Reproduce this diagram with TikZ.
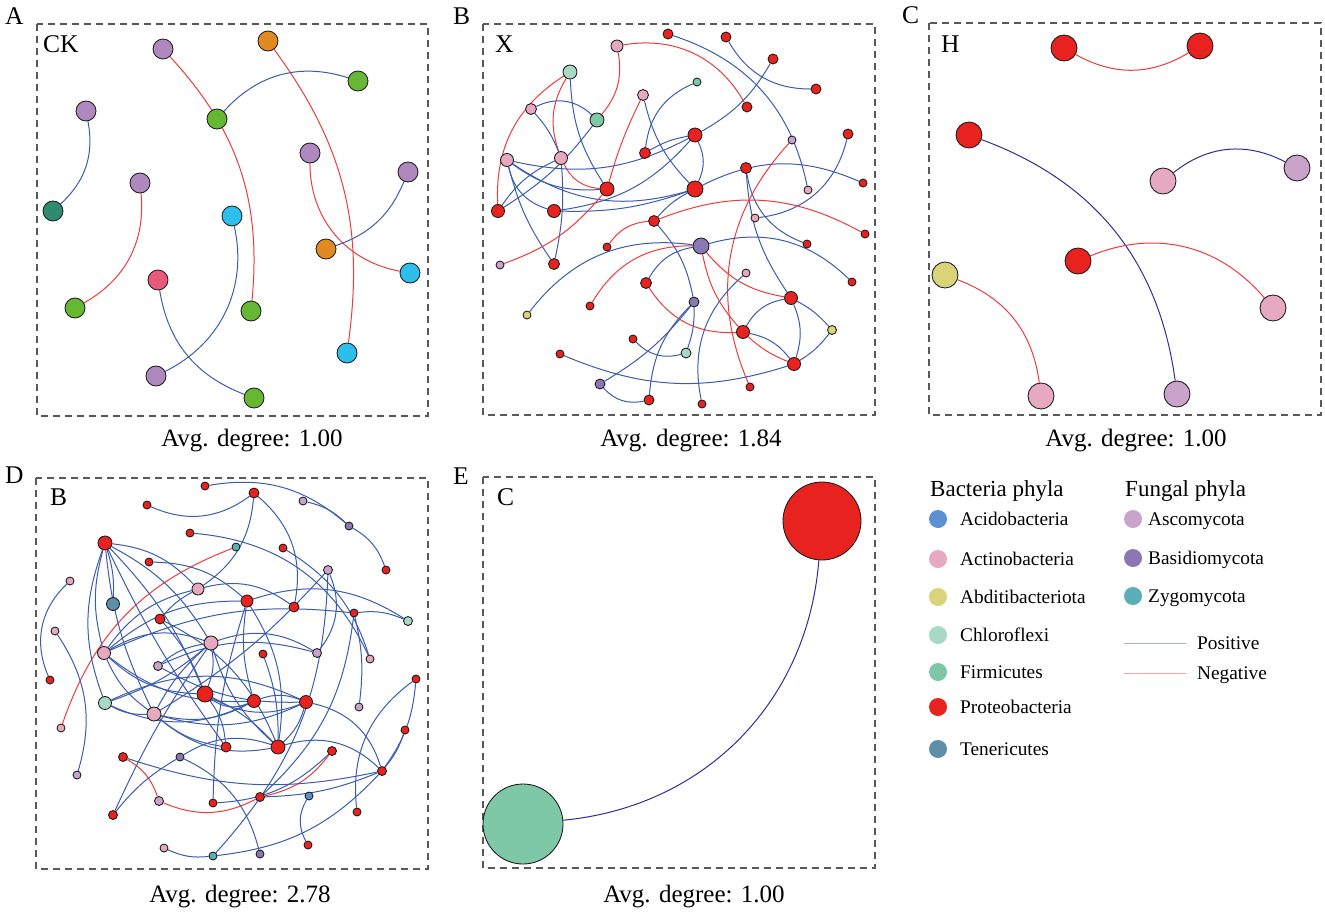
\documentclass[tikz,border=0pt]{standalone}
\usepackage{fontspec}
\setmainfont{Liberation Serif}
\pgfdeclarelayer{edges}
\pgfsetlayers{edges,main}
\definecolor{cPr}{HTML}{E8221E}
\definecolor{cAc}{HTML}{E6A9C0}
\definecolor{cAs}{HTML}{C9A3C9}
\definecolor{cBa}{HTML}{8B77B4}
\definecolor{cZy}{HTML}{5AAFB6}
\definecolor{cCh}{HTML}{A8D8C6}
\definecolor{cFi}{HTML}{7EC8A8}
\definecolor{cAb}{HTML}{D9D37A}
\definecolor{cAci}{HTML}{5B90D2}
\definecolor{cTe}{HTML}{5F8FA8}
\definecolor{cAp}{HTML}{AE88BE}
\definecolor{cAo}{HTML}{E08A22}
\definecolor{cAg}{HTML}{66B832}
\definecolor{cAt}{HTML}{2E8B6E}
\definecolor{cAy}{HTML}{2EBEEC}
\definecolor{cAr}{HTML}{E85A7A}
\definecolor{cPos}{HTML}{3A5CAE}
\definecolor{cNeg}{HTML}{F03A3A}
\definecolor{cNavy}{HTML}{2E2E96}
\definecolor{cPosL}{HTML}{A6ACD8}
\definecolor{cNegL}{HTML}{F4A6A6}
\tikzset{
  nd/.style={circle,draw=black!90,line width=0.85pt,inner sep=0pt,minimum size=#1},
  ps/.style={draw=cPos,line width=1pt},
  ng/.style={draw=cNeg,line width=1pt},
  nv/.style={draw=cNavy,line width=1pt},
  panelbox/.style={draw=black!65,dash pattern=on 7pt off 5pt,line width=1.4pt},
  plab/.style={inner sep=0pt,anchor=base west,font=\fontsize{25.5}{30}\selectfont},
  avg/.style={inner sep=0pt,anchor=base,font=\fontsize{25}{30}\selectfont},
  lgc/.style={circle,inner sep=0pt,minimum size=18pt},
  lgt/.style={inner sep=0pt,anchor=base west,font=\fontsize{19.3}{23}\selectfont},
  lgh/.style={inner sep=0pt,anchor=base west,font=\fontsize{23}{27}\selectfont}
}
\begin{document}
\begin{tikzpicture}[x=1pt,y=1pt]
\useasboundingbox (0,0) rectangle (1325,-914);
% ---------------- panel boxes ----------------
\draw[panelbox] (37,-24) rectangle (428,-416);
\draw[panelbox] (483,-24) rectangle (875,-415);
\draw[panelbox] (929,-23) rectangle (1321,-415);
\draw[panelbox] (36,-478) rectangle (428,-869);
\draw[panelbox] (483,-477) rectangle (875,-868);
% labels
\node[plab] (LA) at (5,-24) {A};
\node[plab] (LB) at (453,-24) {B};
\node[plab] (LC) at (902,-23) {C};
\node[plab] (LD) at (5,-483) {D};
\node[plab] (LE) at (453,-484) {E};
\node[plab] (TA) at (43,-52) {CK};
\node[plab] (TB) at (495,-52) {X};
\node[plab] (TC) at (941,-52) {H};
\node[plab] (TD) at (50,-505) {B};
\node[plab] (TE) at (497,-505) {C};
\node[avg] (VA) at (252,-446) {Avg. degree: 1.00};
\node[avg] (VB) at (691,-446) {Avg. degree: 1.84};
\node[avg] (VC) at (1136,-446) {Avg. degree: 1.00};
\node[avg] (VD) at (240,-902) {Avg. degree: 2.78};
\node[avg] (VE) at (694,-902) {Avg. degree: 1.00};
% ---------------- panel A nodes ----------------
\node[nd=20,fill=cAp] (a1) at (163,-49) {};
\node[nd=20,fill=cAo] (a2) at (268,-41) {};
\node[nd=20,fill=cAg] (a3) at (358,-81) {};
\node[nd=20,fill=cAg] (a4) at (217,-119) {};
\node[nd=20,fill=cAp] (a5) at (86,-111) {};
\node[nd=20,fill=cAp] (a6) at (310,-153) {};
\node[nd=20,fill=cAp] (a7) at (408,-172) {};
\node[nd=20,fill=cAp] (a8) at (140,-183) {};
\node[nd=20,fill=cAt] (a9) at (53,-211) {};
\node[nd=20,fill=cAy] (a10) at (232,-216) {};
\node[nd=20,fill=cAo] (a11) at (326,-249) {};
\node[nd=20,fill=cAy] (a12) at (410,-273) {};
\node[nd=20,fill=cAr] (a13) at (158,-280) {};
\node[nd=20,fill=cAg] (a14) at (75,-308) {};
\node[nd=20,fill=cAg] (a15) at (251,-311) {};
\node[nd=20,fill=cAy] (a16) at (347,-353) {};
\node[nd=20,fill=cAp] (a17) at (156,-376) {};
\node[nd=20,fill=cAg] (a18) at (254,-398) {};
% ---------------- panel B nodes ----------------
\node[nd=10,fill=cPr] (b1) at (668,-34) {};
\node[nd=10,fill=cPr] (b2) at (726,-37) {};
\node[nd=12,fill=cAc] (b3) at (617,-46) {};
\node[nd=10,fill=cPr] (b4) at (773,-59) {};
\node[nd=14,fill=cCh] (b5) at (570,-72) {};
\node[nd=8,fill=cFi] (b6) at (697,-82) {};
\node[nd=10,fill=cPr] (b7) at (816,-89) {};
\node[nd=11,fill=cAc] (b8) at (643,-95) {};
\node[nd=10,fill=cPr] (b9) at (747,-107) {};
\node[nd=11,fill=cAc] (b10) at (531,-109) {};
\node[nd=14,fill=cFi] (b11) at (597,-120) {};
\node[nd=14,fill=cPr] (b12) at (695,-135) {};
\node[nd=10,fill=cPr] (b13) at (848,-134) {};
\node[nd=8,fill=cAs] (b14) at (792,-140) {};
\node[nd=13,fill=cAc] (b15) at (507,-160) {};
\node[nd=13,fill=cAc] (b16) at (561,-158) {};
\node[nd=11,fill=cPr] (b17) at (645,-153) {};
\node[nd=11,fill=cPr] (b18) at (746,-168) {};
\node[nd=14,fill=cPr] (b19) at (607,-189) {};
\node[nd=16,fill=cPr] (b20) at (695,-189) {};
\node[nd=8,fill=cAc] (b21) at (808,-190) {};
\node[nd=8,fill=cPr] (b22) at (863,-183) {};
\node[nd=13,fill=cPr] (b23) at (498,-211) {};
\node[nd=13,fill=cPr] (b24) at (554,-211) {};
\node[nd=11,fill=cPr] (b25) at (654,-221) {};
\node[nd=8,fill=cAc] (b26) at (755,-218) {};
\node[nd=8,fill=cPr] (b27) at (865,-234) {};
\node[nd=8,fill=cPr] (b28) at (607,-247) {};
\node[nd=8,fill=cPr] (b29) at (807,-244) {};
\node[nd=16,fill=cBa] (b30) at (701,-246) {};
\node[nd=8,fill=cAs] (b31) at (500,-265) {};
\node[nd=11,fill=cPr] (b32) at (554,-264) {};
\node[nd=11,fill=cPr] (b33) at (646,-283) {};
\node[nd=8,fill=cAc] (b34) at (746,-273) {};
\node[nd=8,fill=cPr] (b35) at (852,-282) {};
\node[nd=13,fill=cPr] (b36) at (791,-298) {};
\node[nd=10,fill=cBa] (b37) at (694,-302) {};
\node[nd=8,fill=cPr] (b38) at (590,-306) {};
\node[nd=8,fill=cAb] (b39) at (527,-315) {};
\node[nd=13,fill=cPr] (b40) at (743,-332) {};
\node[nd=9,fill=cAb] (b41) at (832,-330) {};
\node[nd=8,fill=cPr] (b42) at (633,-339) {};
\node[nd=10,fill=cCh] (b43) at (686,-353) {};
\node[nd=8,fill=cPr] (b44) at (560,-354) {};
\node[nd=13,fill=cPr] (b45) at (794,-364) {};
\node[nd=10,fill=cBa] (b46) at (600,-384) {};
\node[nd=8,fill=cPr] (b47) at (750,-387) {};
\node[nd=10,fill=cPr] (b48) at (649,-400) {};
\node[nd=8,fill=cPr] (b49) at (702,-404) {};
% ---------------- panel C nodes ----------------
\node[nd=26,fill=cPr] (c1) at (1064,-48) {};
\node[nd=26,fill=cPr] (c2) at (1200,-46) {};
\node[nd=26,fill=cPr] (c3) at (969,-135) {};
\node[nd=26,fill=cAc] (c4) at (1163,-181) {};
\node[nd=26,fill=cAs] (c5) at (1297,-168) {};
\node[nd=26,fill=cPr] (c6) at (1078,-261) {};
\node[nd=26,fill=cAb] (c7) at (945,-275) {};
\node[nd=26,fill=cAc] (c8) at (1273,-308) {};
\node[nd=26,fill=cAc] (c9) at (1041,-396) {};
\node[nd=26,fill=cAs] (c10) at (1177,-394) {};
% ---------------- panel D nodes ----------------
\node[nd=8,fill=cPr] (d1) at (205,-486) {};
\node[nd=10,fill=cPr] (d2) at (254,-493) {};
\node[nd=8,fill=cPr] (d3) at (147,-505) {};
\node[nd=8,fill=cAs] (d4) at (303,-501) {};
\node[nd=8,fill=cBa] (d5) at (349,-526) {};
\node[nd=8,fill=cPr] (d6) at (190,-533) {};
\node[nd=14,fill=cPr] (d7) at (105,-543) {};
\node[nd=8,fill=cZy] (d8) at (236,-547) {};
\node[nd=8,fill=cPr] (d9) at (283,-548) {};
\node[nd=8,fill=cPr] (d10) at (149,-562) {};
\node[nd=8,fill=cAc] (d11) at (70,-581) {};
\node[nd=8,fill=cPr] (d12) at (386,-570) {};
\node[nd=9,fill=cAs] (d13) at (328,-570) {};
\node[nd=12,fill=cAc] (d14) at (198,-589) {};
\node[nd=13,fill=cTe] (d15) at (113,-604) {};
\node[nd=12,fill=cPr] (d16) at (247,-601) {};
\node[nd=10,fill=cPr] (d17) at (294,-607) {};
\node[nd=8,fill=cPr] (d18) at (354,-613) {};
\node[nd=9,fill=cCh] (d19) at (408,-621) {};
\node[nd=10,fill=cPr] (d20) at (160,-619) {};
\node[nd=8,fill=cAc] (d21) at (55,-631) {};
\node[nd=14,fill=cAc] (d22) at (211,-643) {};
\node[nd=13,fill=cAc] (d23) at (104,-653) {};
\node[nd=8,fill=cPr] (d24) at (263,-654) {};
\node[nd=9,fill=cAs] (d25) at (317,-653) {};
\node[nd=8,fill=cAc] (d26) at (370,-659) {};
\node[nd=9,fill=cAs] (d27) at (158,-666) {};
\node[nd=8,fill=cPr] (d28) at (50,-680) {};
\node[nd=8,fill=cPr] (d29) at (416,-679) {};
\node[nd=16,fill=cPr] (d30) at (205,-694) {};
\node[nd=13,fill=cPr] (d31) at (254,-701) {};
\node[nd=13,fill=cPr] (d32) at (306,-702) {};
\node[nd=13,fill=cCh] (d33) at (105,-703) {};
\node[nd=14,fill=cAc] (d34) at (154,-714) {};
\node[nd=8,fill=cAs] (d35) at (359,-707) {};
\node[nd=8,fill=cAc] (d36) at (61,-728) {};
\node[nd=8,fill=cPr] (d37) at (405,-730) {};
\node[nd=10,fill=cPr] (d38) at (226,-747) {};
\node[nd=14,fill=cPr] (d39) at (278,-747) {};
\node[nd=9,fill=cPr] (d40) at (332,-751) {};
\node[nd=9,fill=cPr] (d41) at (123,-757) {};
\node[nd=8,fill=cBa] (d42) at (180,-757) {};
\node[nd=9,fill=cPr] (d43) at (382,-771) {};
\node[nd=8,fill=cAs] (d44) at (77,-775) {};
\node[nd=9,fill=cAs] (d45) at (159,-801) {};
\node[nd=8,fill=cPr] (d46) at (213,-803) {};
\node[nd=9,fill=cPr] (d47) at (260,-797) {};
\node[nd=8,fill=cAci] (d48) at (309,-796) {};
\node[nd=8,fill=cPr] (d49) at (357,-812) {};
\node[nd=9,fill=cPr] (d50) at (113,-815) {};
\node[nd=8,fill=cPr] (d51) at (308,-845) {};
\node[nd=8,fill=cAc] (d52) at (164,-848) {};
\node[nd=8,fill=cZy] (d53) at (213,-856) {};
\node[nd=8,fill=cBa] (d54) at (260,-854) {};
% ---------------- panel E nodes ----------------
\node[nd=78,fill=cPr] (e1) at (822,-521) {};
\node[nd=80,fill=cFi] (e2) at (523,-824) {};
% ---------------- legend ----------------
\node[lgh] (H1) at (930,-496) {Bacteria phyla};
\node[lgh] (H2) at (1125,-496) {Fungal phyla};
\node[lgc,fill=cAci] (k1) at (938,-519) {};
\node[lgt] (k1t) at (960,-525) {Acidobacteria};
\node[lgc,fill=cAc] (k2) at (938,-559) {};
\node[lgt] (k2t) at (960,-565) {Actinobacteria};
\node[lgc,fill=cAb] (k3) at (938,-597) {};
\node[lgt] (k3t) at (960,-603) {Abditibacteriota};
\node[lgc,fill=cCh] (k4) at (938,-635) {};
\node[lgt] (k4t) at (960,-641) {Chloroflexi};
\node[lgc,fill=cFi] (k5) at (938,-672) {};
\node[lgt] (k5t) at (960,-678) {Firmicutes};
\node[lgc,fill=cPr] (k6) at (938,-707) {};
\node[lgt] (k6t) at (960,-713) {Proteobacteria};
\node[lgc,fill=cTe] (k7) at (938,-749) {};
\node[lgt] (k7t) at (960,-755) {Tenericutes};
\node[lgc,fill=cAs] (f1) at (1133,-519) {};
\node[lgt] (f1t) at (1148,-525) {Ascomycota};
\node[lgc,fill=cBa] (f2) at (1133,-558) {};
\node[lgt] (f2t) at (1148,-564) {Basidiomycota};
\node[lgc,fill=cZy] (f3) at (1133,-596) {};
\node[lgt] (f3t) at (1148,-602) {Zygomycota};
\coordinate (p1) at (1124,-643);
\coordinate (p2) at (1186,-643);
\coordinate (n1) at (1124,-673);
\coordinate (n2) at (1186,-673);
\draw[draw=cPosL,line width=1pt] (p1) -- (p2);
\draw[draw=cNegL,line width=1pt] (n1) -- (n2);
\node[lgt] (pt) at (1197,-649) {Positive};
\node[lgt] (nt) at (1197,-679) {Negative};
% ---------------- edges ----------------
\begin{pgfonlayer}{edges}
% A
\draw[ng] (a1) to[bend left=24] (a15);
\draw[ng] (a2) to[bend left=22] (a16);
\draw[ps] (a4) to[bend left=33] (a3);
\draw[ps] (a5) to[bend left=29] (a9);
\draw[ng] (a8) to[bend left=33] (a14);
\draw[ps] (a10) to[bend left=38] (a17);
\draw[ps] (a13) to[bend right=30] (a18);
\draw[ng] (a6) to[bend right=40] (a12);
\draw[ps] (a7) to[bend left=24] (a11);
% B
\draw[ps] (b1) to[bend left=30] (b21);
\draw[ps] (b2) to[bend right=30] (b7);
\draw[ng] (b3) to[bend left=35] (b9);
\draw[ng] (b3) to[bend left=25] (b11);
\draw[ps] (b12) to[bend right=15] (b4);
\draw[ng] (b5) to[bend right=30] (b23);
\draw[ng] (b5) to[bend right=25] (b16);
\draw[ng] (b16) to[bend right=30] (b19);
\draw[ps] (b5) to[bend right=15] (b19);
\draw[ps] (b10) to[bend left=35] (b11);
\draw[ps] (b10) to[bend left=10] (b16);
\draw[ps] (b11) to[bend left=10] (b23);
\draw[ps] (b15) to[bend right=20] (b19);
\draw[ps] (b15) to[bend right=30] (b24);
\draw[ps] (b15) to[bend right=25] (b20);
\draw[ps] (b15) to[bend right=20] (b12);
\draw[ps] (b16) to[bend right=15] (b23);
\draw[ps] (b16) to[bend left=8] (b32);
\draw[ps] (b15) to[bend right=10] (b32);
\draw[ps] (b17) to[bend left=30] (b6);
\draw[ps] (b17) to[bend left=10] (b12);
\draw[ps] (b12) to[bend left=25] (b20);
\draw[ps] (b24) to[bend right=20] (b12);
\draw[ng] (b8) to[bend right=5] (b19);
\draw[ng] (b19) to[bend left=15] (b31);
\draw[ps] (b8) to[bend right=15] (b20);
\draw[ps] (b20) to[bend left=25] (b22);
\draw[ps] (b20) to[bend right=10] (b25);
\draw[ps] (b24) to[bend right=10] (b20);
\draw[ps] (b18) to[bend right=30] (b29);
\draw[ps] (b18) to[bend right=15] (b36);
\draw[ps] (b13) to[bend left=35] (b26);
\draw[ng] (b14) to[bend right=33] (b47);
\draw[ng] (b28) to[bend left=25] (b25);
\draw[ng] (b25) to[bend left=25] (b27);
\draw[ps] (b25) to[bend left=15] (b37);
\draw[ps] (b30) to[bend right=30] (b39);
\draw[ps] (b30) to[bend left=30] (b35);
\draw[ps] (b30) to[bend right=25] (b33);
\draw[ng] (b30) to[bend right=30] (b38);
\draw[ng] (b30) to[bend right=15] (b40);
\draw[ng] (b30) to[bend right=20] (b36);
\draw[ng] (b33) to[bend right=30] (b40);
\draw[ps] (b37) to[bend left=10] (b43);
\draw[ps] (b37) to[bend left=10] (b46);
\draw[ps] (b48) to[bend left=20] (b37);
\draw[ps] (b46) to[bend right=30] (b48);
\draw[ps] (b42) to[bend right=30] (b43);
\draw[ps] (b44) to[bend right=20] (b45);
\draw[ng] (b45) to[bend left=10] (b40);
\draw[ps] (b40) to[bend left=20] (b45);
\draw[ps] (b45) to[bend right=10] (b41);
\draw[ps] (b36) to[bend left=10] (b41);
\draw[ps] (b36) to[bend left=20] (b45);
\draw[ps] (b40) to[bend left=25] (b36);
\draw[ps] (b34) to[bend right=30] (b49);
% C
\draw[ng] (c1) to[bend right=30] (c2);
\draw[nv] (c3) to[bend left=31] (c10);
\draw[nv] (c4) to[bend left=33] (c5);
\draw[ng] (c6) to[bend left=36] (c8);
\draw[ng] (c7) to[bend left=31] (c9);
% D
\draw[ps] (d1) to[bend left=25] (d5);
\draw[ps] (d4) to[bend left=15] (d5);
\draw[ps] (d5) to[bend left=20] (d12);
\draw[ps] (d3) to[bend right=30] (d2);
\draw[ps] (d2) to[bend left=25] (d14);
\draw[ps] (d2) to[bend left=30] (d17);
\draw[ps] (d6) to[bend left=30] (d26);
\draw[ng] (d8) to[bend right=25] (d36);
\draw[ps] (d9) to[bend left=20] (d26);
\draw[ps] (d7) to[bend left=20] (d14);
\draw[ps] (d7) to[bend left=10] (d15);
\draw[ps] (d7) to[bend right=15] (d23);
\draw[ps] (d7) to[bend right=20] (d33);
\draw[ps] (d7) to[bend right=10] (d34);
\draw[ps] (d7) to[bend left=10] (d30);
\draw[ps] (d7) to[bend left=15] (d22);
\draw[ps] (d7) to[bend right=5] (d38);
\draw[ps] (d10) to[bend left=20] (d16);
\draw[ps] (d11) to[bend right=35] (d28);
\draw[ps] (d21) to[bend left=25] (d44);
\draw[ps] (d13) to[bend left=30] (d25);
\draw[ps] (d13) to[bend left=8] (d34);
\draw[ps] (d16) to[bend left=25] (d19);
\draw[ps] (d16) to[bend right=20] (d23);
\draw[ps] (d16) to[bend right=12] (d31);
\draw[ps] (d16) to[bend right=8] (d46);
\draw[ps] (d16) to[bend left=20] (d39);
\draw[ps] (d17) to[bend right=25] (d14);
\draw[ps] (d18) to[bend left=15] (d19);
\draw[ps] (d18) to[bend right=15] (d23);
\draw[ps] (d18) to[bend left=20] (d47);
\draw[ps] (d20) to[bend left=10] (d14);
\draw[ps] (d20) to[bend left=20] (d39);
\draw[ps] (d20) to[bend left=10] (d30);
\draw[ps] (d22) to[bend right=25] (d23);
\draw[ps] (d22) to[bend left=25] (d25);
\draw[ps] (d22) to[bend right=15] (d27);
\draw[ps] (d22) to[bend left=10] (d33);
\draw[ps] (d22) to[bend right=10] (d34);
\draw[ps] (d22) to[bend left=15] (d30);
\draw[ps] (d22) to[bend right=15] (d39);
\draw[ps] (d53) to[bend right=20] (d13);
\draw[ps] (d23) to[bend left=20] (d14);
\draw[ps] (d23) to[bend right=20] (d30);
\draw[ps] (d23) to[bend right=20] (d31);
\draw[ps] (d23) to[bend right=15] (d34);
\draw[ps] (d24) to[bend left=10] (d39);
\draw[ps] (d27) to[bend left=20] (d25);
\draw[ps] (d27) to[bend right=15] (d32);
\draw[ps] (d29) to[bend right=30] (d49);
\draw[ps] (d29) to[bend left=15] (d43);
\draw[ps] (d30) to[bend right=30] (d31);
\draw[ps] (d30) to[bend right=25] (d32);
\draw[ps] (d30) to[bend left=10] (d39);
\draw[ps] (d30) to[bend left=15] (d38);
\draw[ps] (d31) to[bend left=20] (d32);
\draw[ps] (d31) to[bend left=25] (d33);
\draw[ps] (d31) to[bend left=20] (d34);
\draw[ps] (d32) to[bend right=25] (d33);
\draw[ps] (d32) to[bend left=20] (d34);
\draw[ps] (d32) to[bend left=30] (d43);
\draw[ps] (d32) to[bend left=15] (d39);
\draw[ps] (d33) to[bend right=15] (d34);
\draw[ps] (d34) to[bend right=15] (d38);
\draw[ps] (d34) to[bend right=25] (d39);
\draw[ps] (d35) to[bend right=10] (d18);
\draw[ps] (d37) to[bend left=10] (d43);
\draw[ps] (d39) to[bend left=30] (d43);
\draw[ng] (d40) to[bend left=20] (d47);
\draw[ng] (d45) to[bend right=25] (d47);
\draw[ng] (d41) to[bend left=20] (d45);
\draw[ps] (d41) to[bend right=15] (d43);
\draw[ps] (d42) to[bend left=25] (d54);
\draw[ps] (d42) to[bend left=25] (d39);
\draw[ps] (d43) to[bend left=10] (d47);
\draw[ps] (d46) to[bend right=20] (d40);
\draw[ps] (d48) to[bend right=30] (d51);
\draw[ps] (d50) to[bend left=10] (d42);
\draw[ps] (d50) to[bend left=5] (d22);
\draw[ps] (d52) to[bend right=15] (d53);
\draw[ps] (d53) to[bend right=20] (d43);
% E
\draw[nv] (e1) to[bend left=40] (e2);
\end{pgfonlayer}
\end{tikzpicture}
\end{document}
